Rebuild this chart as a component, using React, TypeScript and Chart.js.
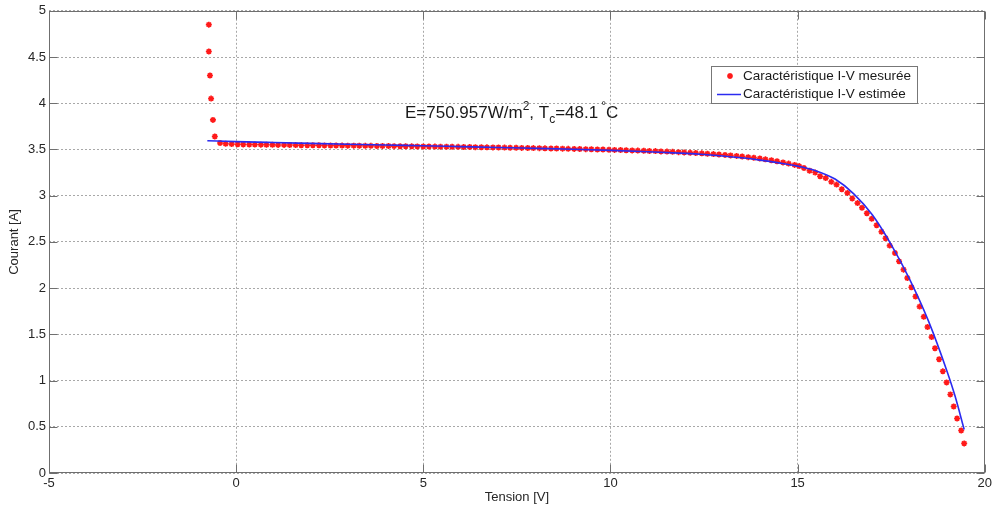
import React, { useEffect, useRef } from "react";
import { Chart, registerables } from "chart.js";

Chart.register(...registerables);

// Measured I-V characteristic (voltage [V], current [A])
const measuredV = [
  -0.73, -0.73, -0.70, -0.67, -0.62, -0.57,
  -0.43, -0.28, -0.12, 0.04, 0.19, 0.35, 0.50, 0.66, 0.81, 0.97,
  1.12, 1.28, 1.43, 1.59, 1.74, 1.90, 2.05, 2.21, 2.36, 2.52,
  2.67, 2.83, 2.98, 3.14, 3.29, 3.45, 3.60, 3.76, 3.91, 4.07,
  4.22, 4.38, 4.53, 4.69, 4.84, 5.00, 5.15, 5.31, 5.46, 5.62,
  5.77, 5.93, 6.08, 6.24, 6.39, 6.55, 6.70, 6.86, 7.01, 7.17,
  7.32, 7.48, 7.63, 7.79, 7.94, 8.10, 8.25, 8.41, 8.56, 8.72,
  8.87, 9.03, 9.18, 9.34, 9.49, 9.65, 9.80, 9.96, 10.11, 10.27,
  10.42, 10.58, 10.73, 10.89, 11.04, 11.20, 11.35, 11.51, 11.66, 11.82,
  11.97, 12.13, 12.28, 12.44, 12.59, 12.75, 12.90, 13.06, 13.21, 13.37,
  13.52, 13.68, 13.83, 13.99, 14.14, 14.30, 14.45, 14.61, 14.76, 14.92,
  15.04, 15.17, 15.32, 15.47, 15.60, 15.75, 15.90, 16.04, 16.18, 16.33,
  16.46, 16.60, 16.72, 16.85, 16.98, 17.11, 17.24, 17.35, 17.46, 17.60,
  17.71, 17.83, 17.93, 18.04, 18.15, 18.26, 18.37, 18.47, 18.58, 18.67,
  18.78, 18.88, 18.98, 19.08, 19.17, 19.26, 19.37, 19.45,
];
const measuredI = [
  4.85, 4.56, 4.30, 4.05, 3.82, 3.64,
  3.570, 3.562, 3.558, 3.556, 3.555, 3.554, 3.553, 3.552, 3.551, 3.550,
  3.549, 3.549, 3.548, 3.547, 3.546, 3.546, 3.545, 3.545, 3.544, 3.543,
  3.543, 3.542, 3.541, 3.541, 3.540, 3.539, 3.539, 3.538, 3.537, 3.537,
  3.536, 3.535, 3.535, 3.534, 3.533, 3.532, 3.532, 3.531, 3.530, 3.529,
  3.529, 3.528, 3.527, 3.526, 3.525, 3.524, 3.523, 3.522, 3.521, 3.520,
  3.519, 3.518, 3.517, 3.516, 3.515, 3.514, 3.512, 3.511, 3.510, 3.509,
  3.507, 3.506, 3.505, 3.503, 3.502, 3.500, 3.499, 3.497, 3.495, 3.494,
  3.492, 3.490, 3.488, 3.486, 3.484, 3.482, 3.479, 3.477, 3.474, 3.471,
  3.468, 3.465, 3.462, 3.458, 3.454, 3.450, 3.446, 3.441, 3.436, 3.430,
  3.424, 3.417, 3.410, 3.402, 3.393, 3.383, 3.372, 3.360, 3.347, 3.333,
  3.320, 3.30, 3.27, 3.25, 3.21, 3.19, 3.15, 3.12, 3.07, 3.03,
  2.97, 2.92, 2.87, 2.81, 2.75, 2.68, 2.61, 2.54, 2.46, 2.38,
  2.29, 2.20, 2.11, 2.01, 1.91, 1.80, 1.69, 1.58, 1.47, 1.35,
  1.23, 1.10, 0.98, 0.85, 0.72, 0.59, 0.46, 0.32,
];

// Estimated I-V characteristic (model curve)
const estimatedV = [
  -0.77, 0, 1, 2, 3, 4, 5, 6, 7, 8, 9, 10, 11, 12, 12.5, 13, 13.5, 14,
  14.5, 15, 15.5, 16, 16.5, 17, 17.5, 18, 18.5, 19, 19.2, 19.45,
];
const estimatedI = [
  3.595, 3.585, 3.575, 3.566, 3.557, 3.548, 3.540, 3.531, 3.522, 3.512,
  3.502, 3.490, 3.476, 3.458, 3.446, 3.430, 3.410, 3.385, 3.355, 3.320,
  3.268, 3.180, 3.02, 2.79, 2.47, 2.09, 1.64, 1.09, 0.84, 0.47,
];

const xTicks = [-5, 0, 5, 10, 15, 20];
const yTicks = [0, 0.5, 1, 1.5, 2, 2.5, 3, 3.5, 4, 4.5, 5];

const legendLabels = ["Caractéristique I-V mesurée", "Caractéristique I-V estimée"];
const FONT = "'Liberation Sans', Arial, Helvetica, sans-serif";

const overlayPlugin = {
  id: "matlabOverlay",
  afterDraw(chart: any) {
    const { ctx, chartArea: a, scales } = chart;
    const L = Math.round(a.left) + 0.5;
    const R = Math.round(a.right) - 0.5;
    const T = Math.round(a.top) + 0.5;
    const B = Math.round(a.bottom) - 0.5;
    ctx.save();
    // frame
    ctx.strokeStyle = "#6f6f6f";
    ctx.lineWidth = 1;
    ctx.setLineDash([]);
    ctx.strokeRect(L, T, R - L, B - T);
    // inward ticks
    const tl = 8;
    ctx.beginPath();
    for (const v of xTicks) {
      const px = Math.round(scales.x.getPixelForValue(v)) + 0.5;
      ctx.moveTo(px, B);
      ctx.lineTo(px, B - tl);
      ctx.moveTo(px, T);
      ctx.lineTo(px, T + tl);
    }
    for (const v of yTicks) {
      const py = Math.round(scales.y.getPixelForValue(v)) + 0.5;
      ctx.moveTo(L, py);
      ctx.lineTo(L + tl, py);
      ctx.moveTo(R, py);
      ctx.lineTo(R - tl, py);
    }
    ctx.stroke();

    // legend
    const lx = 711.5, ly = 66.5, lw = 206, lh = 37;
    ctx.fillStyle = "#ffffff";
    ctx.fillRect(lx, ly, lw, lh);
    ctx.strokeStyle = "#777777";
    ctx.strokeRect(lx, ly, lw, lh);
    ctx.font = `13.5px ${FONT}`;
    ctx.fillStyle = "#1a1a1a";
    ctx.textBaseline = "middle";
    ctx.textAlign = "left";
    ctx.fillText(legendLabels[0], 743, 76);
    ctx.fillText(legendLabels[1], 743, 94);
    // legend marker
    ctx.strokeStyle = "#ff1a1a";
    ctx.lineWidth = 1.6;
    ctx.beginPath();
    const mx = 730, my = 76, r = 3;
    ctx.moveTo(mx - r, my); ctx.lineTo(mx + r, my);
    ctx.moveTo(mx, my - r); ctx.lineTo(mx, my + r);
    ctx.moveTo(mx - r * 0.7, my - r * 0.7); ctx.lineTo(mx + r * 0.7, my + r * 0.7);
    ctx.moveTo(mx - r * 0.7, my + r * 0.7); ctx.lineTo(mx + r * 0.7, my - r * 0.7);
    ctx.stroke();
    // legend line
    ctx.strokeStyle = "#2b2bf0";
    ctx.lineWidth = 1.5;
    ctx.beginPath();
    ctx.moveTo(717, 94.5);
    ctx.lineTo(741, 94.5);
    ctx.stroke();

    // annotation E=..., Tc=...
    ctx.fillStyle = "#1a1a1a";
    ctx.textBaseline = "alphabetic";
    let x = 405;
    const y = 118;
    const big = `17px ${FONT}`;
    const small = `12px ${FONT}`;
    const seg = (t: string, font: string, dy: number) => {
      ctx.font = font;
      ctx.fillText(t, x, y + dy);
      x += ctx.measureText(t).width;
    };
    seg("E=750.957W/m", big, 0);
    seg("2", small, -8);
    seg(", T", big, 0);
    seg("c", small, 5);
    seg("=48.1", big, 0);
    x += 3;
    seg("°", small, -8);
    seg("C", big, 0);
    ctx.restore();
  },
};

export default function App() {
  const ref = useRef<HTMLCanvasElement | null>(null);

  useEffect(() => {
    if (!ref.current) return;
    const measured = measuredV.map((v, i) => ({ x: v, y: measuredI[i] }));
    const estimated = estimatedV.map((v, i) => ({ x: v, y: estimatedI[i] }));
    const chart = new Chart(ref.current, {
      type: "scatter",
      data: {
        datasets: [
          {
            label: legendLabels[1],
            data: estimated,
            showLine: true,
            borderColor: "#2b2bf0",
            backgroundColor: "#2b2bf0",
            borderWidth: 1.6,
            pointRadius: 0,
            cubicInterpolationMode: "monotone",
          },
          {
            label: legendLabels[0],
            data: measured,
            showLine: false,
            pointStyle: "star",
            pointRadius: 3,
            borderWidth: 1.6,
            borderColor: "#ff1a1a",
            backgroundColor: "#ff1a1a",
          },
        ],
      },
      options: {
        animation: false,
        responsive: false,
        maintainAspectRatio: false,
        layout: { padding: { left: 0, right: 10, top: 10, bottom: 0 } },
        plugins: {
          legend: { display: false },
          tooltip: { enabled: false },
        },
        scales: {
          x: {
            type: "linear",
            min: -5,
            max: 20,
            afterFit: (s: any) => { s.height = 35; },
            afterBuildTicks: (s: any) => { s.ticks = xTicks.map((v) => ({ value: v })); },
            ticks: {
              color: "#262626",
              font: { family: FONT, size: 13 },
              padding: 3,
              maxRotation: 0,
              callback: (v: any) => String(v),
            },
            grid: { color: "#a8a8a8", lineWidth: 1, drawTicks: false },
            border: { display: false, dash: [2, 2] },
            title: {
              display: true,
              text: "Tension [V]",
              color: "#262626",
              font: { family: FONT, size: 13 },
              padding: { top: 0, bottom: 3 },
            },
          },
          y: {
            type: "linear",
            min: 0,
            max: 5,
            afterFit: (s: any) => { s.width = 49; },
            afterBuildTicks: (s: any) => { s.ticks = yTicks.map((v) => ({ value: v })); },
            ticks: {
              color: "#262626",
              font: { family: FONT, size: 13 },
              padding: 3,
              callback: (v: any) => String(v),
            },
            grid: { color: "#a8a8a8", lineWidth: 1, drawTicks: false },
            border: { display: false, dash: [2, 2] },
            title: {
              display: true,
              text: "Courant [A]",
              color: "#262626",
              font: { family: FONT, size: 13 },
              padding: { top: 7, bottom: 0 },
            },
          },
        },
      },
      plugins: [overlayPlugin],
    });
    return () => chart.destroy();
  }, []);

  return (
    <div style={{ position: "fixed", left: 0, top: 0, width: 995, height: 508, background: "#ffffff" }}>
      <canvas ref={ref} width={995} height={508} style={{ display: "block" }} />
    </div>
  );
}
